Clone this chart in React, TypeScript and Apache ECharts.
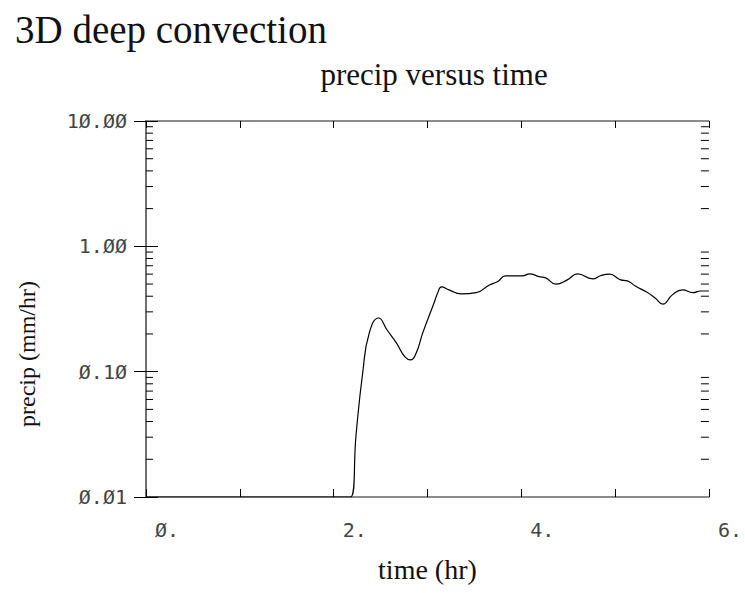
import React, { useEffect, useRef } from "react";
import * as echarts from "echarts";

// Model output: surface precipitation rate over the run
const TIME_HR = [
  0, 1, 2, 2.1, 2.18, 2.24, 2.31, 2.38, 2.48, 2.57, 2.67, 2.76, 2.82, 2.88,
  2.95, 3.07, 3.11, 3.15, 3.23, 3.36, 3.52, 3.66, 3.75, 3.83, 4.01, 4.09,
  4.19, 4.26, 4.37, 4.49, 4.6, 4.76, 4.85, 4.94, 5.06, 5.13, 5.22, 5.34, 5.43,
  5.51, 5.61, 5.72, 5.83, 5.91, 6.0,
];
const PRECIP_MM_HR = [
  0.01, 0.01, 0.01, 0.01, 0.01, 0.032, 0.098, 0.204, 0.268, 0.215, 0.169,
  0.131, 0.124, 0.141, 0.204, 0.353, 0.427, 0.474, 0.449, 0.417, 0.427,
  0.492, 0.524, 0.581, 0.581, 0.603, 0.573, 0.56, 0.5, 0.54, 0.603, 0.55, 0.585,
  0.6, 0.54, 0.53, 0.48, 0.43, 0.385, 0.346, 0.41, 0.449, 0.427, 0.44, 0.44,
];

// Axis ticks and their printed labels
const X_TICKS = [0, 1, 2, 3, 4, 5, 6];
const X_TICK_LABELS = ["Ø.", "", "2.", "", "4.", "", "6."];
const Y_TICKS = [0.01, 0.1, 1, 10];
const Y_TICK_LABELS = ["Ø.Ø1", "Ø.1Ø", "1.ØØ", "1Ø.ØØ"];
const Y_MINOR_TICKS = [
  0.02, 0.03, 0.04, 0.05, 0.06, 0.07, 0.08, 0.09,
  0.2, 0.3, 0.4, 0.5, 0.6, 0.7, 0.8, 0.9,
  2, 3, 4, 5, 6, 7, 8, 9,
];

const TITLE = "3D deep convection";
const SUBTITLE = "precip versus time";
const X_NAME = "time (hr)";
const Y_NAME = "precip (mm/hr)";

const SERIF = '"Liberation Serif", "DejaVu Serif", serif';
const MONO = '"DejaVu Sans Mono", "Liberation Mono", monospace';
const FRAME = "#666";

const xLabel = (v: number) => {
  const i = X_TICKS.findIndex((t) => Math.abs(t - v) < 1e-6);
  return i >= 0 ? X_TICK_LABELS[i] : "";
};
const yLabel = (v: number) => {
  const i = Y_TICKS.findIndex((t) => Math.abs(Math.log10(t) - Math.log10(v)) < 1e-6);
  return i >= 0 ? Y_TICK_LABELS[i] : "";
};

export default function App() {
  const ref = useRef<HTMLDivElement>(null);

  useEffect(() => {
    if (!ref.current) return;
    const chart = echarts.init(ref.current, null, { renderer: "svg" });
    const xMin = X_TICKS[0];
    const xMax = X_TICKS[X_TICKS.length - 1];
    const yMin = Y_TICKS[0];
    const yMax = Y_TICKS[Y_TICKS.length - 1];

    const frameLine = { show: true, lineStyle: { color: FRAME, width: 1.5 } };

    chart.setOption({
      animation: false,
      backgroundColor: "#fff",
      grid: { left: 146, top: 121, width: 564, height: 376 },
      graphic: [
        {
          type: "text",
          x: 15,
          y: 29,
          style: {
            text: TITLE,
            font: `39px ${SERIF}`,
            fill: "#111",
            align: "left",
            verticalAlign: "middle",
          },
        },
        {
          type: "text",
          x: 434,
          y: 74,
          style: {
            text: SUBTITLE,
            font: `31px ${SERIF}`,
            fill: "#111",
            align: "center",
            verticalAlign: "middle",
          },
        },
        {
          type: "text",
          x: 27,
          y: 354,
          rotation: Math.PI / 2,
          style: {
            text: Y_NAME,
            font: `24px ${SERIF}`,
            fill: "#111",
            align: "center",
            verticalAlign: "middle",
          },
        },
      ],
      xAxis: [
        {
          type: "value",
          min: xMin,
          max: xMax,
          interval: 1,
          position: "bottom",
          name: X_NAME,
          nameLocation: "middle",
          nameGap: 58,
          nameTextStyle: { fontFamily: SERIF, fontSize: 28, color: "#111" },
          axisLine: frameLine,
          axisTick: { show: true, inside: true, length: 8, lineStyle: { color: "#000", width: 1 } },
          axisLabel: {
            formatter: xLabel,
            fontFamily: MONO,
            fontSize: 20,
            color: "#444",
            align: "left",
            padding: [0, 0, 0, 9],
            margin: 23,
            showMinLabel: true,
            showMaxLabel: true,
          },
          splitLine: { show: false },
        },
        {
          type: "value",
          min: xMin,
          max: xMax,
          interval: 1,
          position: "top",
          axisLine: frameLine,
          axisTick: { show: true, inside: true, length: 7, lineStyle: { color: "#000", width: 1 } },
          axisLabel: { show: false },
          splitLine: { show: false },
        },
      ],
      yAxis: [
        {
          type: "log",
          logBase: 10,
          min: yMin,
          max: yMax,
          position: "left",
          axisLine: frameLine,
          axisTick: { show: true, inside: true, length: 12, lineStyle: { color: "#000", width: 1 } },
          axisLabel: {
            formatter: yLabel,
            fontFamily: MONO,
            fontSize: 20,
            color: "#444",
            margin: 19,
          },
          splitLine: { show: false },
        },
        {
          type: "log",
          logBase: 10,
          min: yMin,
          max: yMax,
          position: "right",
          axisLine: frameLine,
          axisTick: { show: true, inside: true, length: 12, lineStyle: { color: "#000", width: 1 } },
          axisLabel: { show: false },
          splitLine: { show: false },
        },
      ],
      series: [
        {
          // minor log ticks on the left and right frame edges
          type: "custom",
          xAxisIndex: 0,
          yAxisIndex: 0,
          silent: true,
          clip: false,
          data: Y_MINOR_TICKS.map((v) => [xMin, v]),
          renderItem: (_params: any, api: any) => {
            const v = api.value(1);
            const l = api.coord([xMin, v]);
            const r = api.coord([xMax, v]);
            const stroke = { stroke: "#000", lineWidth: 1 };
            return {
              type: "group",
              children: [
                { type: "line", shape: { x1: l[0], y1: l[1], x2: l[0] + 7, y2: l[1] }, style: stroke },
                { type: "line", shape: { x1: r[0] - 8, y1: r[1], x2: r[0], y2: r[1] }, style: stroke },
              ],
            };
          },
        },
        {
          type: "line",
          xAxisIndex: 0,
          yAxisIndex: 0,
          data: TIME_HR.map((t, i) => [t, PRECIP_MM_HR[i]]),
          showSymbol: false,
          smooth: 0.5,
          lineStyle: { color: "#000", width: 1.2 },
          z: 5,
        },
      ],
    });

    return () => chart.dispose();
  }, []);

  return (
    <div
      ref={ref}
      style={{ position: "fixed", left: 0, top: 0, width: 745, height: 593, background: "#fff" }}
    />
  );
}
